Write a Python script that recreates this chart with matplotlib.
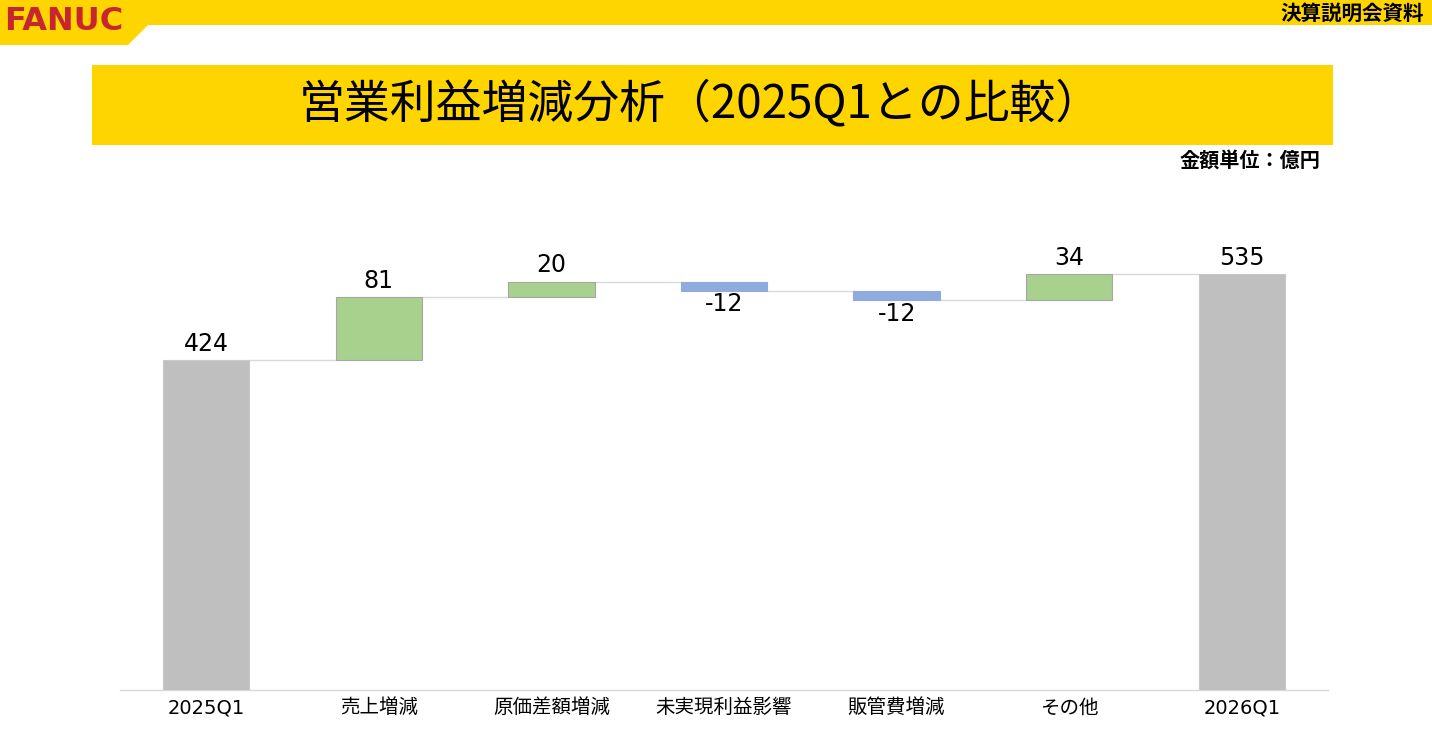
import matplotlib
matplotlib.use("Agg")
import matplotlib.pyplot as plt
from matplotlib.patches import Polygon, Rectangle

plt.rcParams['font.family'] = ['DejaVu Sans', 'Noto Sans CJK JP']

# ---- data ----
categories = ["2025Q1", "売上増減", "原価差額増減", "未実現利益影響", "販管費増減", "その他", "2026Q1"]
values = [424, 81, 20, -12, -12, 34, 535]
kinds = ["total", "delta", "delta", "delta", "delta", "delta", "total"]
labels = ["424", "81", "20", "-12", "-12", "34", "535"]

title = "営業利益増減分析（2025Q1との比較）"
unit_text = "金額単位：億円"
doc_text = "決算説明会資料"
logo_text = "FANUC"

W, H = 1432, 738
fig = plt.figure(figsize=(W / 100, H / 100), dpi=100)

# ---- header overlay ----
ov = fig.add_axes([0, 0, 1, 1])
ov.set_xlim(0, W)
ov.set_ylim(H, 0)
ov.axis("off")
yellow = "#FFD500"
ov.add_patch(Polygon([(0, 0), (W, 0), (W, 25), (148, 25), (128, 45), (0, 45)],
                     closed=True, facecolor=yellow, edgecolor="none"))
ov.text(4, 22, logo_text, color="#C8262E", fontsize=23, fontweight="heavy",
        ha="left", va="center", family=["DejaVu Sans"])
ov.text(1424, 13, doc_text, color="black", fontsize=14.8, fontweight="bold",
        ha="right", va="center", family=["Noto Sans CJK JP"])
ov.add_patch(Rectangle((92, 65), 1333 - 92, 80, facecolor=yellow, edgecolor="none"))
ov.text(700, 104, title, color="black", fontsize=33, ha="center", va="center",
        family=["Noto Sans CJK JP"])
ov.text(1320, 160, unit_text, color="black", fontsize=14.5, fontweight="bold",
        ha="right", va="center", family=["Noto Sans CJK JP"])

# ---- waterfall ----
px_per_unit = 0.778
ax_left, ax_right, ax_bottom, ax_top = 120, 1328, 690, 200
ax = fig.add_axes([ax_left / W, (H - ax_bottom) / H,
                   (ax_right - ax_left) / W, (ax_bottom - ax_top) / H])
ax.set_xlim(-0.5, len(categories) - 0.5)
ax.set_ylim(0, (ax_bottom - ax_top) / px_per_unit)

bar_w = 0.5
bottoms, heights, colors, edges = [], [], [], []
running = 0
levels = []
for v, k in zip(values, kinds):
    if k == "total":
        bottoms.append(0)
        heights.append(v)
        colors.append("#BFBFBF")
        edges.append("#C8C8C8")
        running = v
    else:
        if v >= 0:
            bottoms.append(running)
            heights.append(v)
            colors.append("#A9D18E")
            edges.append("#A6A6A6")
        else:
            bottoms.append(running + v)
            heights.append(-v)
            colors.append("#8FAADC")
            edges.append("#8FAADC")
        running += v
    levels.append(running)

x = list(range(len(categories)))
ax.bar(x, heights, bottom=bottoms, width=bar_w, color=colors,
       edgecolor=edges, linewidth=0.8, zorder=3)

# connectors
for i in range(len(categories) - 1):
    ax.plot([i + bar_w / 2, i + 1 - bar_w / 2], [levels[i], levels[i]],
            color="#D9D9D9", linewidth=1.0, zorder=2)

# labels
for i, (v, k) in enumerate(zip(values, kinds)):
    top = bottoms[i] + heights[i]
    if v >= 0:
        ax.annotate(labels[i], (i, top), xytext=(0, 3), textcoords="offset points",
                    ha="center", va="bottom", fontsize=17, color="black")
    else:
        ax.annotate(labels[i], (i, bottoms[i]), xytext=(0, -1), textcoords="offset points",
                    ha="center", va="top", fontsize=17, color="black")

ax.set_xticks(x)
ax.set_xticklabels(categories, fontsize=14)
ax.tick_params(axis="x", length=0, pad=6)
ax.set_yticks([])
for s in ["top", "left", "right"]:
    ax.spines[s].set_visible(False)
ax.spines["bottom"].set_color("#D9D9D9")
ax.spines["bottom"].set_linewidth(1.0)

fig.savefig("out.png", dpi=100)
